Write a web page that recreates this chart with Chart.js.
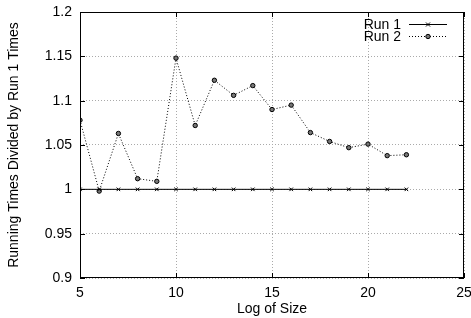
<!DOCTYPE html>
<html>
<head>
<meta charset="utf-8">
<script src="https://cdn.jsdelivr.net/npm/chart.js@4"></script>
<style>
  html, body { margin: 0; padding: 0; background: #fff; }
  #wrap { width: 471px; height: 318px; }
</style>
</head>
<body>
<div id="wrap"><canvas id="chart" width="471" height="318"></canvas></div>
<script>
// Data
const logSizes = [5, 6, 7, 8, 9, 10, 11, 12, 13, 14, 15, 16, 17, 18, 19, 20, 21, 22];
const run1 = [1, 1, 1, 1, 1, 1, 1, 1, 1, 1, 1, 1, 1, 1, 1, 1, 1, 1];
const run2 = [1.078, 0.998, 1.063, 1.012, 1.009, 1.148, 1.072, 1.123, 1.106, 1.117,
              1.090, 1.095, 1.064, 1.054, 1.047, 1.051, 1.038, 1.039];
const xTicks = [5, 10, 15, 20, 25];
const yTicks = [0.9, 0.95, 1, 1.05, 1.1, 1.15, 1.2];
const seriesNames = ['Run 1', 'Run 2'];

const FONT = 'Liberation Sans, Arial, Helvetica, sans-serif';

// frame + inward tick marks + legend inside the plot (gnuplot style)
const framePlugin = {
  id: 'frame',
  afterDatasetsDraw(chart) {
    const { ctx, chartArea: a, scales } = chart;
    ctx.save();
    ctx.strokeStyle = '#000';
    ctx.lineWidth = 1;
    ctx.strokeRect(a.left + 0.5, a.top + 0.5, a.right - a.left - 1, a.bottom - a.top - 1);
    ctx.beginPath();
    xTicks.forEach(v => {
      const x = Math.round(scales.x.getPixelForValue(v)) + 0.5;
      ctx.moveTo(x, a.bottom); ctx.lineTo(x, a.bottom - 5);
      ctx.moveTo(x, a.top); ctx.lineTo(x, a.top + 5);
    });
    yTicks.forEach(v => {
      const y = Math.round(scales.y.getPixelForValue(v)) + 0.5;
      ctx.moveTo(a.left, y); ctx.lineTo(a.left + 5, y);
      ctx.moveTo(a.right, y); ctx.lineTo(a.right - 5, y);
    });
    ctx.stroke();

    // legend
    ctx.font = '14px ' + FONT;
    ctx.textAlign = 'right';
    ctx.textBaseline = 'middle';
    chart.data.datasets.forEach((ds, i) => {
      const y = 24 + i * 12;
      ctx.fillStyle = '#000';
      ctx.fillText(ds.label, 401, y + 1);
      ctx.strokeStyle = '#000';
      ctx.setLineDash(ds.borderDash || []);
      ctx.beginPath();
      ctx.moveTo(409, y + 0.5); ctx.lineTo(447, y + 0.5);
      ctx.stroke();
      ctx.setLineDash([]);
      const mx = 428;
      if (ds.pointStyle === 'crossRot') {
        ctx.beginPath();
        ctx.moveTo(mx - 2, y - 1.5); ctx.lineTo(mx + 2, y + 2.5);
        ctx.moveTo(mx + 2, y - 1.5); ctx.lineTo(mx - 2, y + 2.5);
        ctx.stroke();
      } else {
        ctx.beginPath();
        ctx.arc(mx, y + 0.5, 2.2, 0, Math.PI * 2);
        ctx.fillStyle = '#777';
        ctx.fill();
        ctx.stroke();
      }
    });
    ctx.restore();
  }
};

const fmt = v => String(Math.round(v * 100) / 100);

new Chart(document.getElementById('chart'), {
  type: 'line',
  data: {
    labels: logSizes,
    datasets: [
      {
        label: seriesNames[0],
        data: logSizes.map((x, i) => ({ x: x, y: run1[i] })),
        borderColor: '#000',
        borderWidth: 1,
        pointStyle: 'crossRot',
        pointRadius: 2.5,
        pointBorderColor: '#000',
        pointBorderWidth: 1,
        tension: 0
      },
      {
        label: seriesNames[1],
        data: logSizes.map((x, i) => ({ x: x, y: run2[i] })),
        borderColor: '#000',
        borderWidth: 1,
        borderDash: [1, 2],
        pointStyle: 'circle',
        pointRadius: 2.2,
        pointBackgroundColor: '#777',
        pointBorderColor: '#000',
        pointBorderWidth: 1,
        tension: 0
      }
    ]
  },
  options: {
    responsive: false,
    animation: false,
    layout: { padding: { top: 12, right: 7, left: 0, bottom: 0 } },
    plugins: {
      legend: { display: false },
      tooltip: { enabled: false }
    },
    scales: {
      x: {
        type: 'linear',
        min: 5, max: 25,
        afterBuildTicks: s => { s.ticks = xTicks.map(v => ({ value: v })); },
        afterFit: s => { s.height = 40; s.paddingLeft = 0; s.paddingRight = 0; },
        grid: { color: '#aaa', drawTicks: false, lineWidth: 1 },
        border: { display: false, dash: [1, 2] },
        ticks: { color: '#000', font: { family: FONT, size: 14 }, padding: 7, maxRotation: 0, callback: fmt },
        title: { display: true, text: 'Log of Size', color: '#000', font: { family: FONT, size: 14 }, padding: { top: 0, bottom: 0 } }
      },
      y: {
        min: 0.9, max: 1.2,
        afterBuildTicks: s => { s.ticks = yTicks.map(v => ({ value: v })); },
        afterFit: s => { s.width = 80; s.paddingTop = 0; s.paddingBottom = 0; },
        grid: { color: '#aaa', drawTicks: false, lineWidth: 1 },
        border: { display: false, dash: [1, 2] },
        ticks: { color: '#000', font: { family: FONT, size: 14 }, padding: 8, callback: fmt },
        title: { display: true, text: 'Running Times Divided by Run 1 Times', color: '#000', font: { family: FONT, size: 14 }, padding: { top: 6, bottom: 0 } }
      }
    }
  },
  plugins: [framePlugin]
});
</script>
</body>
</html>
